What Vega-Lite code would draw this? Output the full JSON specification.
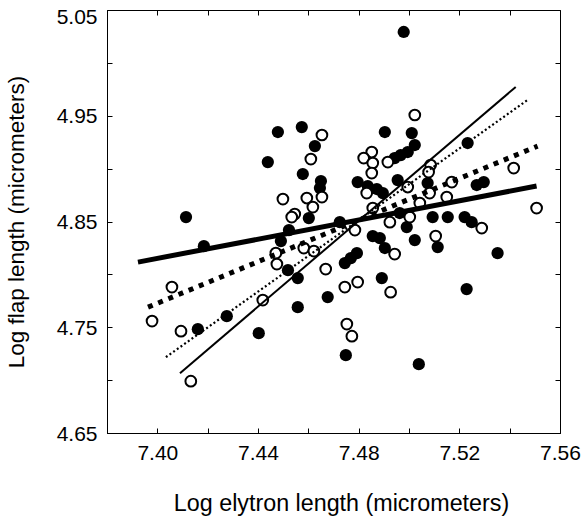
{
  "$schema": "https://vega.github.io/schema/vega-lite/v6.json",
  "width": 453,
  "height": 423,
  "autosize": "none",
  "padding": {"left": 107, "top": 10, "right": 22, "bottom": 84},
  "background": "white",
  "config": {
    "view": {"stroke": "#000", "strokeWidth": 1},
    "axis": {
      "grid": false,
      "labelFont": "Liberation Sans",
      "titleFont": "Liberation Sans",
      "labelFontSize": 21,
      "titleFontSize": 22.5,
      "titleFontWeight": "normal",
      "labelColor": "#000",
      "titleColor": "#000",
      "tickColor": "#000",
      "domainColor": "#000",
      "tickSize": -5,
      "labelFlush": false,
      "labelOverlap": false,
      "labelBound": false
    }
  },
  "datasets": {
    "pts": [
      {"x": 7.4114, "y": 4.8542, "g": "filled"},
      {"x": 7.4185, "y": 4.8267, "g": "filled"},
      {"x": 7.4439, "y": 4.9062, "g": "filled"},
      {"x": 7.4479, "y": 4.9346, "g": "filled"},
      {"x": 7.4574, "y": 4.9393, "g": "filled"},
      {"x": 7.4626, "y": 4.9213, "g": "filled"},
      {"x": 7.4578, "y": 4.8949, "g": "filled"},
      {"x": 7.4650, "y": 4.8882, "g": "filled"},
      {"x": 7.4646, "y": 4.8816, "g": "filled"},
      {"x": 7.4602, "y": 4.8532, "g": "filled"},
      {"x": 7.4523, "y": 4.8419, "g": "filled"},
      {"x": 7.4491, "y": 4.8315, "g": "filled"},
      {"x": 7.4519, "y": 4.8040, "g": "filled"},
      {"x": 7.4558, "y": 4.7965, "g": "filled"},
      {"x": 7.4558, "y": 4.7690, "g": "filled"},
      {"x": 7.4677, "y": 4.7785, "g": "filled"},
      {"x": 7.4276, "y": 4.7605, "g": "filled"},
      {"x": 7.4161, "y": 4.7482, "g": "filled"},
      {"x": 7.4403, "y": 4.7444, "g": "filled"},
      {"x": 7.4749, "y": 4.7236, "g": "filled"},
      {"x": 7.5039, "y": 4.7151, "g": "filled"},
      {"x": 7.4979, "y": 5.0292, "g": "filled"},
      {"x": 7.4904, "y": 4.9346, "g": "filled"},
      {"x": 7.5011, "y": 4.9336, "g": "filled"},
      {"x": 7.5023, "y": 4.9223, "g": "filled"},
      {"x": 7.4995, "y": 4.9157, "g": "filled"},
      {"x": 7.4967, "y": 4.9128, "g": "filled"},
      {"x": 7.4943, "y": 4.9100, "g": "filled"},
      {"x": 7.4796, "y": 4.8873, "g": "filled"},
      {"x": 7.4836, "y": 4.8835, "g": "filled"},
      {"x": 7.4872, "y": 4.8807, "g": "filled"},
      {"x": 7.4896, "y": 4.8769, "g": "filled"},
      {"x": 7.4955, "y": 4.8892, "g": "filled"},
      {"x": 7.5074, "y": 4.8863, "g": "filled"},
      {"x": 7.5233, "y": 4.9242, "g": "filled"},
      {"x": 7.5269, "y": 4.8845, "g": "filled"},
      {"x": 7.5297, "y": 4.8873, "g": "filled"},
      {"x": 7.5094, "y": 4.8542, "g": "filled"},
      {"x": 7.5154, "y": 4.8542, "g": "filled"},
      {"x": 7.5221, "y": 4.8542, "g": "filled"},
      {"x": 7.5249, "y": 4.8494, "g": "filled"},
      {"x": 7.4963, "y": 4.8580, "g": "filled"},
      {"x": 7.4991, "y": 4.8447, "g": "filled"},
      {"x": 7.5023, "y": 4.8324, "g": "filled"},
      {"x": 7.4856, "y": 4.8362, "g": "filled"},
      {"x": 7.4884, "y": 4.8343, "g": "filled"},
      {"x": 7.4725, "y": 4.8494, "g": "filled"},
      {"x": 7.4904, "y": 4.8249, "g": "filled"},
      {"x": 7.4745, "y": 4.8107, "g": "filled"},
      {"x": 7.4769, "y": 4.8154, "g": "filled"},
      {"x": 7.4793, "y": 4.8201, "g": "filled"},
      {"x": 7.4892, "y": 4.7965, "g": "filled"},
      {"x": 7.5114, "y": 4.8258, "g": "filled"},
      {"x": 7.5352, "y": 4.8201, "g": "filled"},
      {"x": 7.5229, "y": 4.7861, "g": "filled"},
      {"x": 7.4058, "y": 4.7880, "g": "open"},
      {"x": 7.3979, "y": 4.7558, "g": "open"},
      {"x": 7.4094, "y": 4.7463, "g": "open"},
      {"x": 7.4419, "y": 4.7757, "g": "open"},
      {"x": 7.4133, "y": 4.6990, "g": "open"},
      {"x": 7.4471, "y": 4.8201, "g": "open"},
      {"x": 7.4475, "y": 4.8097, "g": "open"},
      {"x": 7.4582, "y": 4.8249, "g": "open"},
      {"x": 7.4622, "y": 4.8220, "g": "open"},
      {"x": 7.4669, "y": 4.8050, "g": "open"},
      {"x": 7.4943, "y": 4.8192, "g": "open"},
      {"x": 7.4745, "y": 4.7880, "g": "open"},
      {"x": 7.4796, "y": 4.7927, "g": "open"},
      {"x": 7.4927, "y": 4.7832, "g": "open"},
      {"x": 7.4753, "y": 4.7530, "g": "open"},
      {"x": 7.4773, "y": 4.7416, "g": "open"},
      {"x": 7.5106, "y": 4.8362, "g": "open"},
      {"x": 7.5289, "y": 4.8438, "g": "open"},
      {"x": 7.5507, "y": 4.8627, "g": "open"},
      {"x": 7.5416, "y": 4.9005, "g": "open"},
      {"x": 7.5023, "y": 4.9507, "g": "open"},
      {"x": 7.4654, "y": 4.9318, "g": "open"},
      {"x": 7.4610, "y": 4.9090, "g": "open"},
      {"x": 7.4499, "y": 4.8712, "g": "open"},
      {"x": 7.4594, "y": 4.8722, "g": "open"},
      {"x": 7.4654, "y": 4.8731, "g": "open"},
      {"x": 7.4618, "y": 4.8636, "g": "open"},
      {"x": 7.4546, "y": 4.8570, "g": "open"},
      {"x": 7.4534, "y": 4.8542, "g": "open"},
      {"x": 7.4852, "y": 4.9157, "g": "open"},
      {"x": 7.4820, "y": 4.9100, "g": "open"},
      {"x": 7.4856, "y": 4.9053, "g": "open"},
      {"x": 7.4916, "y": 4.9062, "g": "open"},
      {"x": 7.4852, "y": 4.8958, "g": "open"},
      {"x": 7.4832, "y": 4.8769, "g": "open"},
      {"x": 7.4856, "y": 4.8627, "g": "open"},
      {"x": 7.4924, "y": 4.8494, "g": "open"},
      {"x": 7.4785, "y": 4.8419, "g": "open"},
      {"x": 7.4995, "y": 4.8826, "g": "open"},
      {"x": 7.5086, "y": 4.9034, "g": "open"},
      {"x": 7.5078, "y": 4.8967, "g": "open"},
      {"x": 7.5082, "y": 4.8769, "g": "open"},
      {"x": 7.5043, "y": 4.8674, "g": "open"},
      {"x": 7.5150, "y": 4.8731, "g": "open"},
      {"x": 7.5170, "y": 4.8873, "g": "open"},
      {"x": 7.5003, "y": 4.8542, "g": "open"}
    ],
    "lines": [
      {"line": "thickSolid", "x": 7.3923, "y": 4.8116},
      {"line": "thickSolid", "x": 7.5507, "y": 4.8835},
      {"line": "thickDash", "x": 7.3963, "y": 4.7690},
      {"line": "thickDash", "x": 7.5511, "y": 4.9213},
      {"line": "thinDot", "x": 7.4034, "y": 4.7217},
      {"line": "thinDot", "x": 7.5471, "y": 4.9649},
      {"line": "thinSolid", "x": 7.4090, "y": 4.7066},
      {"line": "thinSolid", "x": 7.5424, "y": 4.9772}
    ]
  },
  "layer": [
    {
      "data": {"name": "pts"},
      "transform": [{"filter": "datum.g == 'filled'"}],
      "mark": {"type": "point", "shape": "circle", "filled": true, "fill": "#000", "stroke": null, "size": 150, "opacity": 1},
      "encoding": {
        "x": {"field": "x", "type": "quantitative", "scale": {"domain": [7.38, 7.56], "nice": false, "zero": false},
          "axis": {"orient": "bottom", "values": [7.38, 7.40, 7.42, 7.44, 7.46, 7.48, 7.50, 7.52, 7.54, 7.56], "format": ".2f",
            "labelExpr": "round(datum.value*100) % 4 == 0 ? datum.label : ''",
            "title": "Log elytron length (micrometers)", "titleFontSize": 23.3, "titleX": 234, "labelPadding": 14, "titlePadding": 29}},
        "y": {"field": "y", "type": "quantitative", "scale": {"domain": [4.65, 5.05], "nice": false, "zero": false},
          "axis": {"orient": "left", "values": [4.65, 4.70, 4.75, 4.80, 4.85, 4.90, 4.95, 5.00, 5.05], "format": ".2f",
            "labelExpr": "round(datum.value*100) % 10 == 5 ? datum.label : ''",
            "labelOffset": {"condition": {"test": "datum.value > 5.04", "value": 7}, "value": 1},
            "title": "Log flap length (micrometers)", "labelPadding": 15, "titlePadding": 28}}
      }
    },
    {
      "data": {"name": "pts"},
      "transform": [{"filter": "datum.g == 'open'"}],
      "mark": {"type": "point", "shape": "circle", "filled": false, "fill": "#fff", "fillOpacity": 1, "stroke": "#000", "strokeWidth": 2, "size": 115, "opacity": 1},
      "encoding": {
        "x": {"field": "x", "type": "quantitative", "scale": {"domain": [7.38, 7.56], "nice": false, "zero": false}, "axis": null},
        "y": {"field": "y", "type": "quantitative", "scale": {"domain": [4.65, 5.05], "nice": false, "zero": false}, "axis": null}
      }
    },
    {
      "data": {"name": "lines"},
      "transform": [{"filter": "datum.line == 'thickSolid'"}],
      "mark": {"type": "line", "color": "#000", "strokeWidth": 5, "strokeCap": "butt"},
      "encoding": {
        "x": {"field": "x", "type": "quantitative", "axis": null},
        "y": {"field": "y", "type": "quantitative", "axis": null}
      }
    },
    {
      "data": {"name": "lines"},
      "transform": [{"filter": "datum.line == 'thickDash'"}],
      "mark": {"type": "line", "color": "#000", "strokeWidth": 5, "strokeCap": "butt", "strokeDash": [5, 6]},
      "encoding": {
        "x": {"field": "x", "type": "quantitative", "axis": null},
        "y": {"field": "y", "type": "quantitative", "axis": null}
      }
    },
    {
      "data": {"name": "lines"},
      "transform": [{"filter": "datum.line == 'thinDot'"}],
      "mark": {"type": "line", "color": "#000", "strokeWidth": 2.2, "strokeCap": "butt", "strokeDash": [2, 2.5]},
      "encoding": {
        "x": {"field": "x", "type": "quantitative", "axis": null},
        "y": {"field": "y", "type": "quantitative", "axis": null}
      }
    },
    {
      "data": {"name": "lines"},
      "transform": [{"filter": "datum.line == 'thinSolid'"}],
      "mark": {"type": "line", "color": "#000", "strokeWidth": 2, "strokeCap": "butt"},
      "encoding": {
        "x": {"field": "x", "type": "quantitative",
          "axis": {"orient": "top", "values": [7.38, 7.40, 7.42, 7.44, 7.46, 7.48, 7.50, 7.52, 7.54, 7.56], "labels": false, "title": null, "domain": false}},
        "y": {"field": "y", "type": "quantitative",
          "axis": {"orient": "right", "values": [4.65, 4.70, 4.75, 4.80, 4.85, 4.90, 4.95, 5.00, 5.05], "labels": false, "title": null, "domain": false}}
      }
    }
  ],
  "resolve": {"axis": {"x": "independent", "y": "independent"}}
}
